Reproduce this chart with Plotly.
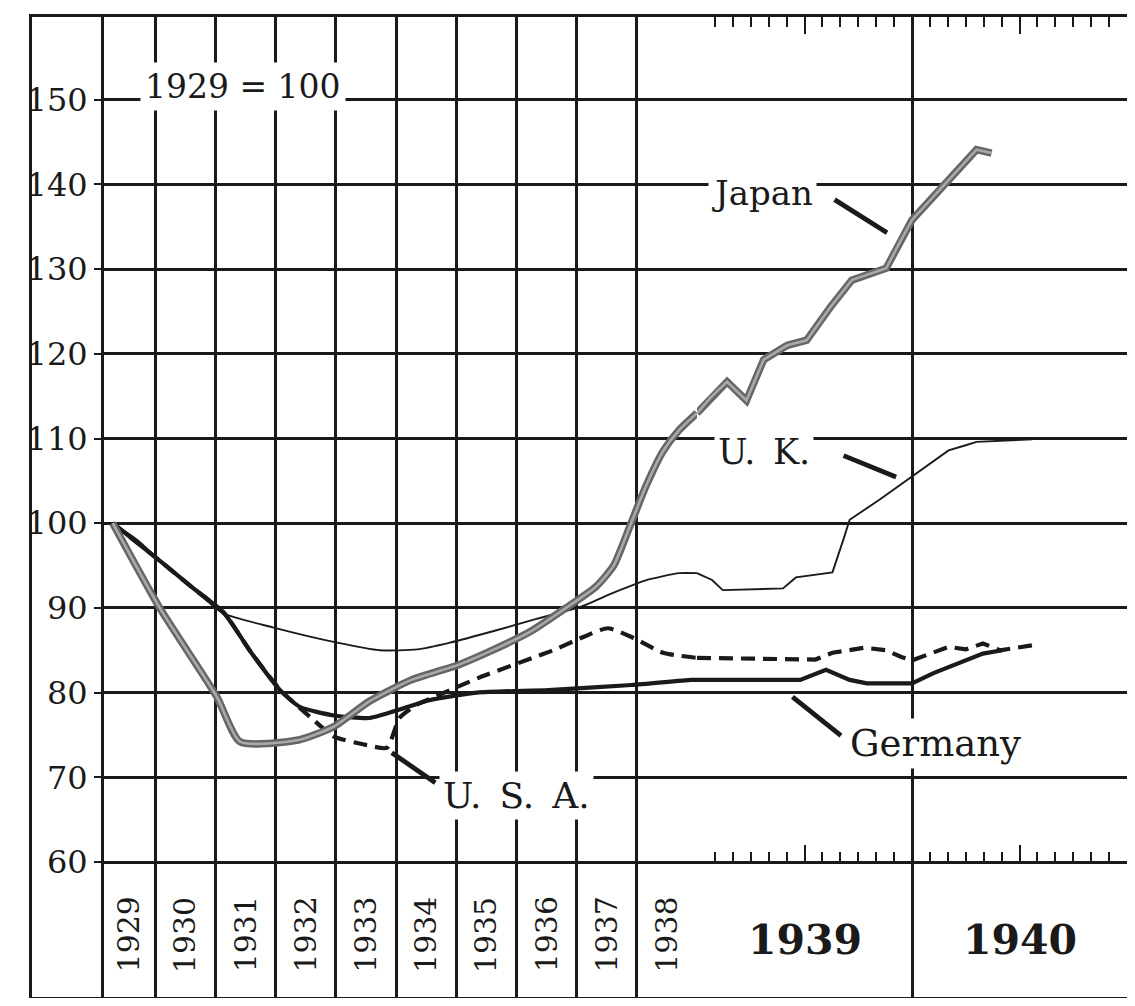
import plotly.graph_objects as go

# ---------------- data ----------------
annual_years = [1930, 1931, 1932, 1933, 1934, 1935, 1936, 1937, 1938, 1939]   # grid lines
label_years = [1929, 1930, 1931, 1932, 1933, 1934, 1935, 1936, 1937, 1938]
wide_years = [1939, 1940]
y_ticks = [60, 70, 80, 90, 100, 110, 120, 130, 140, 150]

# 1929-1938 section (time in years)
japan_t1 = [1929.294, 1930.075, 1931.024, 1931.409, 1932.378, 1932.971, 1933.564, 1934.256,
            1935.046, 1935.540, 1936.232, 1936.825, 1937.320, 1937.616, 1937.883, 1938.160,
            1938.436, 1938.703, 1939.0]
japan_v1 = [100, 90, 79.5, 74.2, 74.4, 76, 79, 81.5,
            83.3, 84.8, 87.2, 90, 92.5, 95, 99.6, 104.5,
            108.5, 111, 113]
uk_t1 = [1929.294, 1929.709, 1930.104, 1930.599, 1931.122, 1931.953, 1933.020, 1933.732,
         1934.354, 1934.898, 1935.639, 1936.331, 1937.053, 1937.616, 1938.170, 1938.703, 1939.0]
uk_v1 = [100, 98, 95.4, 92.5, 89.4, 87.7, 85.9, 85.0,
         85.1, 85.9, 87.3, 88.7, 90.1, 91.8, 93.3, 94.1, 94.1]
germany_t1 = [1929.294, 1930.104, 1930.599, 1931.142, 1931.587, 1932.071, 1932.407, 1932.971,
              1933.564, 1934.058, 1934.552, 1935.343, 1936.529, 1937.913, 1938.901, 1939.0]
germany_v1 = [100, 95.4, 92.5, 89.4, 84.8, 80.3, 78.3, 77.3,
              77.0, 78.0, 79.1, 80.0, 80.3, 80.9, 81.5, 81.5]
usa_t1 = [1929.294, 1930.104, 1930.599, 1931.142, 1931.587, 1932.081, 1932.625, 1932.971,
          1933.514, 1933.850, 1934.058, 1934.354, 1934.611, 1935.392, 1936.608, 1937.122,
          1937.517, 1937.962, 1938.436, 1939.0]
usa_v1 = [100, 95.4, 92.5, 89.4, 84.8, 80.3, 76.8, 74.8,
          73.8, 73.5, 77.0, 78.6, 79.4, 81.8, 85.0, 86.6,
          87.6, 86.4, 84.7, 84.1]

# 1939-1940 section (monthly detail)
japan_t2 = [1939.0, 1939.07, 1939.14, 1939.23, 1939.31, 1939.42, 1939.51, 1939.62, 1939.72,
            1939.88, 1939.94, 1940.0, 1940.17, 1940.3, 1940.37]
japan_v2 = [113, 115, 116.7, 114.5, 119.3, 121.0, 121.6, 125.5, 128.7,
            130.1, 133, 135.8, 140.5, 144.1, 143.7]
uk_t2 = [1939.0, 1939.07, 1939.12, 1939.40, 1939.46, 1939.63, 1939.68, 1939.71, 1939.85,
         1940.0, 1940.17, 1940.25, 1940.3, 1940.56]
uk_v2 = [94.1, 93.3, 92.1, 92.3, 93.6, 94.2, 98.0, 100.4, 102.8,
         105.5, 108.6, 109.2, 109.6, 109.9]
germany_t2 = [1939.0, 1939.48, 1939.6, 1939.71, 1939.79, 1940.0, 1940.1, 1940.25, 1940.33, 1940.42]
germany_v2 = [81.5, 81.5, 82.7, 81.5, 81.1, 81.1, 82.3, 83.8, 84.6, 85.0]
usa_t2 = [1939.0, 1939.55, 1939.63, 1939.78, 1939.88, 1939.95, 1940.0, 1940.08, 1940.17,
          1940.25, 1940.33, 1940.41, 1940.5, 1940.59]
usa_v2 = [84.1, 83.9, 84.7, 85.3, 85.0, 84.2, 83.8, 84.6, 85.4,
          85.1, 85.8, 85.0, 85.3, 85.7]

# ---------------- layout geometry ----------------
BODY = 8                                  # browser default page margin
FIG_W, FIG_H = 1135 - 2 * BODY, 1006 - 2 * BODY
FRAME_L, FRAME_R, FRAME_T, FRAME_B = 32, 1127, 17, 997   # page pixels of the outer frame
ML, MT = FRAME_L - BODY, FRAME_T - BODY
MR, MB = BODY + FIG_W - FRAME_R, BODY + FIG_H - FRAME_B
PW = FRAME_R - FRAME_L
X_LEFT, X_1939 = 102, 697                 # page pixels of the inner left line and the 1939 line
d_left = (X_LEFT - FRAME_L) / PW
d_mid = (X_1939 - FRAME_L) / PW
X1_START = 1929.116                       # time value at the inner left line
PX_PER_UNIT = 8.47
Y60_PX = 862
Y_MAX = 60 + (Y60_PX - FRAME_T) / PX_PER_UNIT
Y_MIN = 60 - (FRAME_B - Y60_PX) / PX_PER_UNIT
pos60 = (60 - Y_MIN) / (Y_MAX - Y_MIN)

INK = "#1a1a1a"
SERIF = "DejaVu Serif"
GRIDW = 3

fig = go.Figure()

def add_series(t1, v1, t2, v2, line, shape1="spline"):
    fig.add_trace(go.Scatter(x=t1, y=v1, xaxis="x", yaxis="y", mode="lines",
                             line=dict(shape=shape1, smoothing=0.6, **line),
                             hoverinfo="skip", showlegend=False))
    fig.add_trace(go.Scatter(x=t2, y=v2, xaxis="x2", yaxis="y", mode="lines",
                             line=dict(shape="linear", **line),
                             hoverinfo="skip", showlegend=False))

add_series(uk_t1, uk_v1, uk_t2, uk_v2, dict(color=INK, width=1.9))
add_series(germany_t1, germany_v1, germany_t2, germany_v2, dict(color=INK, width=4.2))
add_series(usa_t1, usa_v1, usa_t2, usa_v2, dict(color=INK, width=4.2, dash="14px,8px"))
add_series(japan_t1, japan_v1, japan_t2, japan_v2, dict(color="#666666", width=7.5))
add_series(japan_t1, japan_v1, japan_t2, japan_v2, dict(color="#a9a9a9", width=2.6))

# invisible anchors so that the helper axes are drawn
for ax_name in ["x3", "x4"]:
    fig.add_trace(go.Scatter(x=[wide_years[0]], y=[None], xaxis=ax_name, yaxis="y",
                             mode="markers", hoverinfo="skip", showlegend=False))
fig.add_trace(go.Scatter(x=[0.5], y=[None], xaxis="x5", yaxis="y5",
                         mode="markers", hoverinfo="skip", showlegend=False))

month_ticks = [wide_years[0] + k / 12 for k in range(1, 24)]
mid_ticks = [y + 0.5 for y in wide_years]

grid_common = dict(showgrid=True, gridcolor=INK, gridwidth=GRIDW, zeroline=False,
                   showline=False, showticklabels=False, ticks="", automargin=False)

tick_axis = dict(overlaying="x2", range=[wide_years[0], wide_years[-1] + 1], showgrid=False,
                 zeroline=False, showline=False, showticklabels=False, ticks="inside",
                 tickmode="array", tickvals=mid_ticks, ticklen=17, tickwidth=2.4, tickcolor=INK,
                 minor=dict(ticks="inside", tickmode="array", tickvals=month_ticks,
                            ticklen=10, tickwidth=2.4, tickcolor=INK, showgrid=False),
                 automargin=False)

fig.update_layout(
    template="none",
    width=FIG_W, height=FIG_H,
    margin=dict(l=ML, r=MR, t=MT, b=MB, pad=0),
    paper_bgcolor="white", plot_bgcolor="rgba(0,0,0,0)",
    showlegend=False,
    xaxis=dict(domain=[d_left, d_mid], range=[X1_START, wide_years[0]],
               tickmode="array", tickvals=annual_years, anchor="y", **grid_common),
    xaxis2=dict(domain=[d_mid, 1.0], range=[wide_years[0], wide_years[-1] + 1],
                tickmode="array", tickvals=wide_years + [wide_years[-1] + 1], anchor="y", **grid_common),
    xaxis3=dict(side="top", anchor="y", **tick_axis),
    xaxis4=dict(side="bottom", anchor="free", position=pos60, **tick_axis),
    xaxis5=dict(domain=[0, 1], range=[0, 1], anchor="y5", showgrid=False, zeroline=False,
                showticklabels=False, ticks="", showline=True, mirror=True,
                linecolor=INK, linewidth=3, automargin=False),
    yaxis5=dict(domain=[0, 1], range=[0, 1], anchor="x5", showgrid=False, zeroline=False,
                showticklabels=False, ticks="", showline=True, mirror=True,
                linecolor=INK, linewidth=3, automargin=False),
    yaxis=dict(domain=[0, 1], range=[Y_MIN, Y_MAX], anchor="free", position=d_left,
               tickmode="array", tickvals=y_ticks, ticktext=[str(v) for v in y_ticks],
               showgrid=True, gridcolor=INK, gridwidth=GRIDW, zeroline=False,
               showline=True, linecolor=INK, linewidth=3,
               ticks="outside", ticklen=7, tickwidth=2, tickcolor=INK,
               tickfont=dict(family=SERIF, size=32, color=INK), automargin=False),
)

ann = []
# year labels under the grid
for yr in label_years:
    ann.append(dict(x=yr + 0.5 + (X1_START - label_years[0]) / 2 * (yr == label_years[0]),
                    y=51.4, xref="x", yref="y", text=str(yr), textangle=-90,
                    showarrow=False, font=dict(family=SERIF, size=30, color=INK)))
for yr in wide_years:
    ann.append(dict(x=yr + 0.5, y=50.8, xref="x2", yref="y", text=str(yr), showarrow=False,
                    font=dict(family=SERIF, size=41, color=INK, weight="bold")))

ann += [
    dict(x=1931.45, y=151.5, xref="x", yref="y", text="1929 = 100", showarrow=False,
         bgcolor="white", borderpad=4, font=dict(family=SERIF, size=33, color=INK)),
    dict(x=1939.306, y=139.0, xref="x2", yref="y", text="Japan", showarrow=False,
         bgcolor="white", borderpad=3, font=dict(family=SERIF, size=34, color=INK)),
    dict(x=1939.31, y=108.4, xref="x2", yref="y", text="U.\u2002K.", showarrow=False,
         bgcolor="white", borderpad=3, font=dict(family=SERIF, size=35, color=INK)),
    dict(x=1940.111, y=74.0, xref="x2", yref="y", text="Germany", showarrow=False,
         bgcolor="white", borderpad=3, font=dict(family=SERIF, size=37, color=INK)),
    dict(x=1936.0, y=67.9, xref="x", yref="y", text="U.\u2002S.\u2002A.", showarrow=False,
         bgcolor="white", borderpad=3, font=dict(family=SERIF, size=36, color=INK)),
]
# pointer strokes from labels to lines
pointer = dict(text="", showarrow=True, arrowhead=0, arrowwidth=4.8, arrowcolor=INK,
               standoff=0, startstandoff=0)
ann += [
    dict(x=1939.884, y=134.3, xref="x2", yref="y", ax=-54, ay=-34, **pointer),
    dict(x=1939.926, y=105.45, xref="x2", yref="y", ax=-54, ay=-22, **pointer),
    dict(x=1939.444, y=79.5, xref="x2", yref="y", ax=50, ay=40, **pointer),
    dict(x=1933.93, y=72.9, xref="x", yref="y", ax=45, ay=31, **pointer),
]
fig.update_layout(annotations=ann)

fig.write_html("out.html")
